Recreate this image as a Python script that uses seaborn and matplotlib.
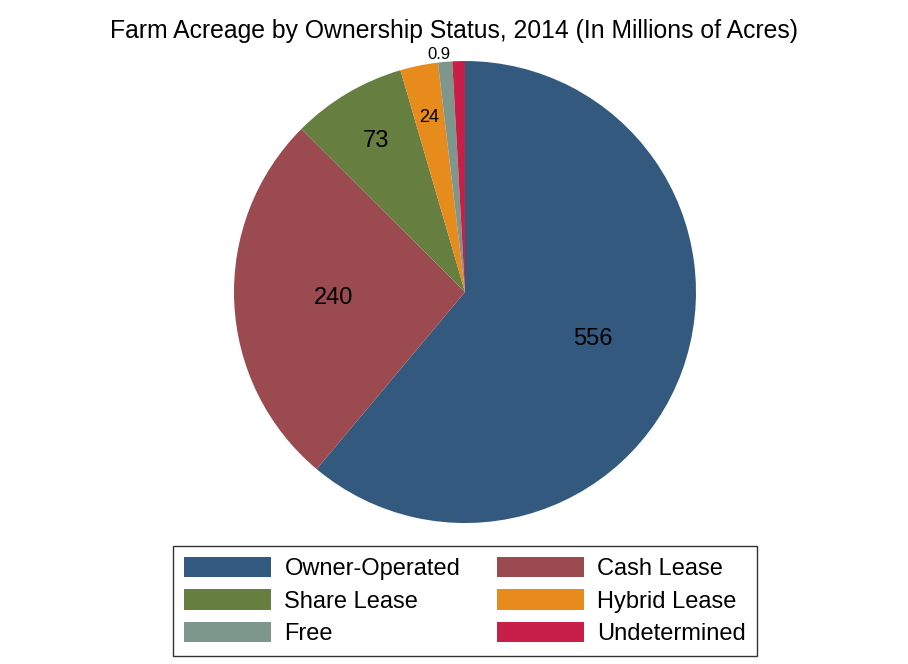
import matplotlib
matplotlib.use("Agg")
import matplotlib.pyplot as plt
import seaborn as sns
import numpy as np

# data (millions of acres)
categorias = ["Owner-Operated", "Cash Lease", "Share Lease", "Hybrid Lease", "Free", "Undetermined"]
valores = [556, 240, 73, 24, 9, 8]
rotulos = ["556", "240", "73", "24", "0.9", ""]
cores = ["#335a7e", "#9b4a50", "#667f40", "#e78b1c", "#7e978d", "#c81f48"]

sns.set_theme(style="white")
plt.rcParams["font.family"] = ["Liberation Sans", "DejaVu Sans"]

fig = plt.figure(figsize=(9.08, 6.64), dpi=100)
ax = fig.add_axes([0.2577, 0.2123, 0.5088, 0.6958])

fatias, _ = ax.pie(valores, colors=cores, startangle=90, counterclock=False,
                   radius=1.0, wedgeprops=dict(linewidth=0))

# rotulos dentro das fatias (o pequeno vai para fora)
distancias = [0.59, 0.57, 0.76, 0.77, 1.035, 1.035]
tamanhos = [17, 17, 17, 13, 12, 12]
for w, txt, d, fs in zip(fatias, rotulos, distancias, tamanhos):
    if not txt:
        continue
    ang = np.deg2rad((w.theta1 + w.theta2) / 2)
    if txt == "0.9":
        ang = np.deg2rad(w.theta2 - 0.5)
    ax.text(d * np.cos(ang), d * np.sin(ang), txt, ha="center", va="center",
            fontsize=fs, color="black")

ax.set_xlim(-1, 1)
ax.set_ylim(-1, 1)
ax.set_aspect("equal")
ax.axis("off")

fig.suptitle("Farm Acreage by Ownership Status, 2014 (In Millions of Acres)",
             fontsize=17.8, color="black", y=0.972)

# legenda em 2 colunas, preenchida por linha
ordem = [0, 2, 4, 1, 3, 5]
handles = [fatias[i] for i in ordem]
labels = [categorias[i] for i in ordem]
leg = fig.legend(handles, labels, ncol=2, loc="center",
                 bbox_to_anchor=(465 / 908, 1 - 601 / 664),
                 fontsize=17, frameon=True, fancybox=False,
                 handlelength=3.7, handleheight=0.95, handletextpad=0.55,
                 columnspacing=1.55, labelspacing=0.38, borderpad=0.48,
                 borderaxespad=0)
for t in leg.get_texts():
    t.set_color("black")
leg.get_frame().set_edgecolor("black")
leg.get_frame().set_linewidth(1.0)

fig.savefig("out.png", dpi=100)
